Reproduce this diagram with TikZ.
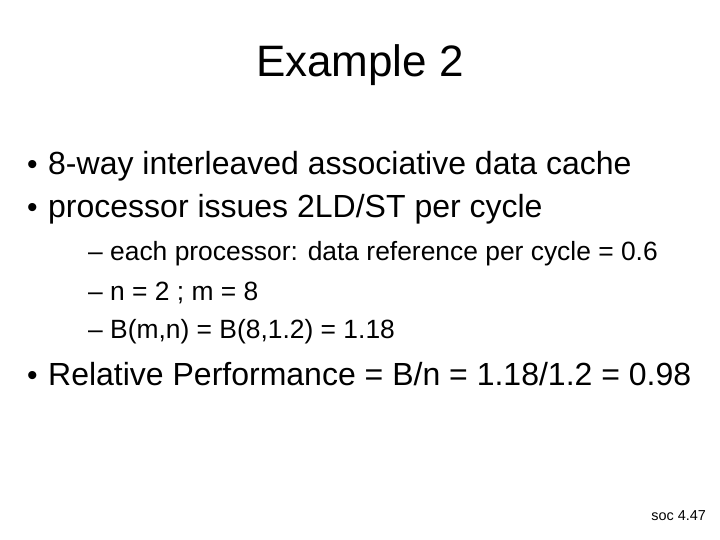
\documentclass[tikz,border=0pt]{standalone}
\usepackage{fontspec}
\setmainfont{Liberation Sans}
\begin{document}
\begin{tikzpicture}[x=1pt,y=-1pt,
  lvl/.style={anchor=base west,inner sep=0pt,font=\fontsize{32}{36}\selectfont},
  sub/.style={anchor=base west,inner sep=0pt,font=\fontsize{26.4}{30}\selectfont},
  bul/.style={anchor=base west,inner sep=0pt,font=\fontsize{30}{34}\selectfont}]
\useasboundingbox (0,0) rectangle (720,540);
\node[anchor=base,inner sep=0pt,font=\fontsize{44}{50}\selectfont] (title) at (360,77) {Example 2};
\node[bul] (b1) at (27,175) {•};
\node[lvl] (t1) at (48,175) {8-way interleaved associative data cache};
\node[bul] (b2) at (27,218) {•};
\node[lvl] (t2) at (48,218) {processor issues 2LD/ST per cycle};
\node[sub] (s1) at (88,260) {– each processor: data reference per cycle = 0.6};
\node[sub] (s2) at (88,300) {– n = 2 ; m = 8};
\node[sub] (s3) at (88,338) {– B(m,n) = B(8,1.2) = 1.18};
\node[bul] (b3) at (27,385) {•};
\node[lvl] (t3) at (48,385) {Relative Performance = B/n = 1.18/1.2 = 0.98};
\node[anchor=base east,inner sep=0pt,font=\fontsize{14.4}{16}\selectfont] (soc) at (706,520) {soc 4.47};
\end{tikzpicture}
\end{document}
